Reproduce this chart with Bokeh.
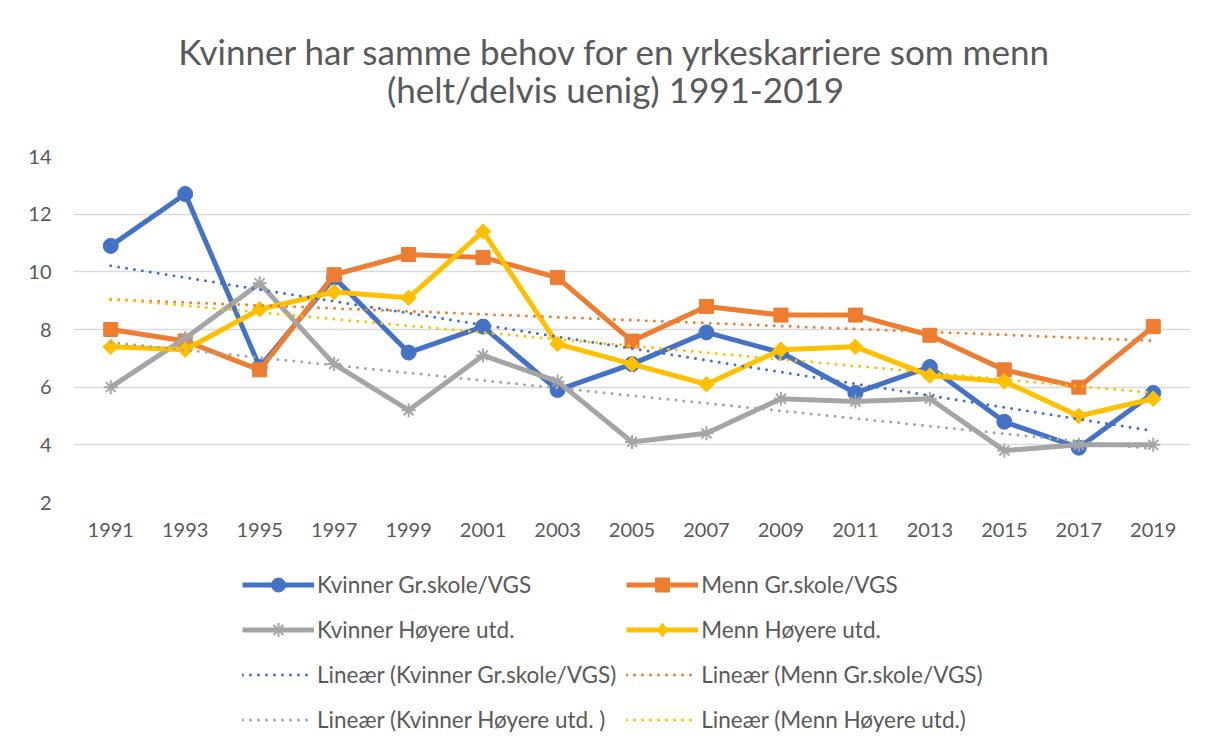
import numpy as np
from bokeh.plotting import figure
from bokeh.layouts import column
from bokeh.models import Legend, LegendItem, Label, FactorRange, Range1d, FixedTicker
from bokeh.embed import file_html
from bokeh.resources import INLINE

years = ["1991", "1993", "1995", "1997", "1999", "2001", "2003", "2005",
         "2007", "2009", "2011", "2013", "2015", "2017", "2019"]
kvinner_gr = [10.9, 12.7, 6.7, 9.8, 7.2, 8.1, 5.9, 6.8, 7.9, 7.2, 5.8, 6.7, 4.8, 3.9, 5.8]
menn_gr = [8.0, 7.6, 6.6, 9.9, 10.6, 10.5, 9.8, 7.6, 8.8, 8.5, 8.5, 7.8, 6.6, 6.0, 8.1]
kvinner_hoy = [6.0, 7.7, 9.6, 6.8, 5.2, 7.1, 6.2, 4.1, 4.4, 5.6, 5.5, 5.6, 3.8, 4.0, 4.0]
menn_hoy = [7.4, 7.3, 8.7, 9.3, 9.1, 11.4, 7.5, 6.8, 6.1, 7.3, 7.4, 6.4, 6.2, 5.0, 5.6]
y_ticks = [2, 4, 6, 8, 10, 12, 14]

title1 = "Kvinner har samme behov for en yrkeskarriere som menn"
title2 = "(helt/delvis uenig) 1991-2019"
names = ["Kvinner Gr.skole/VGS", "Menn Gr.skole/VGS", "Kvinner Høyere utd.", "Menn Høyere utd."]
trend_names = ["Lineær (Kvinner Gr.skole/VGS)", "Lineær (Menn Gr.skole/VGS)",
               "Lineær (Kvinner Høyere utd. )", "Lineær (Menn Høyere utd.)"]
series = [kvinner_gr, menn_gr, kvinner_hoy, menn_hoy]
colors = ["#4472C4", "#ED7D31", "#A5A5A5", "#FFC000"]
markers = ["circle", "square", "asterisk", "square"]
legend_markers = ["circle", "square", "asterisk", "diamond"]
angles = [0, 0, 0, np.pi / 4]
msizes = [15, 14, 14, 11]

FONT = "Lato"
TXT = "#595959"
W = 1209
FL, FR = 73, 1190  # frame left / right (frames are aligned in the column)

# ---------- title strip ----------
tp = figure(width=W, height=130, x_range=Range1d(FL, FR), y_range=Range1d(130, 0),
            output_backend="svg", toolbar_location=None, min_border=0,
            min_border_left=FL, min_border_right=W - FR,
            x_axis_type=None, y_axis_type=None, title=None)
tp.outline_line_color = None
tp.add_layout(Label(x=615, y=50, text=title1, text_align="center",
                    text_baseline="alphabetic", text_font=FONT,
                    text_font_size="35px", text_color=TXT))
tp.add_layout(Label(x=615, y=88, text=title2, text_align="center",
                    text_baseline="alphabetic", text_font=FONT,
                    text_font_size="35px", text_color=TXT))

# ---------- main chart ----------
p = figure(width=W, height=430,
           x_range=FactorRange(*years), y_range=Range1d(2, 14),
           output_backend="svg", toolbar_location=None, title=None,
           min_border_left=FL, min_border_right=W - FR,
           min_border_top=26, min_border_bottom=58)
p.outline_line_color = None
p.xgrid.visible = False
p.ygrid.grid_line_color = "#D9D9D9"
p.ygrid.grid_line_width = 1.5
p.yaxis.ticker = FixedTicker(ticks=y_ticks)
for ax in (p.xaxis, p.yaxis):
    ax.axis_line_color = None
    ax.major_tick_line_color = None
    ax.minor_tick_line_color = None
    ax.major_tick_out = 0
    ax.major_tick_in = 0
    ax.minor_tick_out = 0
    ax.major_label_text_color = TXT
    ax.major_label_text_font = FONT
    ax.major_label_text_font_size = "20px"
p.yaxis.major_label_standoff = 22
p.xaxis.major_label_standoff = 20

xi = np.arange(len(years))
for vals, col, mk, ang, ms in zip(series, colors, markers, angles, msizes):
    p.line(years, vals, line_color=col, line_width=5, line_join="round")
    p.scatter(years, vals, marker=mk, size=ms, angle=ang, fill_color=col,
              line_color=col, line_width=2 if mk == "asterisk" else 1)

fits = []
for vals, col in zip(series, colors):
    coef = np.polyfit(xi, vals, 1)
    fit = np.polyval(coef, xi)
    fits.append(fit)
    p.line(years, fit, line_color=col, line_width=3, line_dash="0 8",
           line_cap="round")

# ---------- legend strip (renderers hold the data but lie outside its view) ----------
lp = figure(width=W, height=186, x_range=FactorRange(*years), y_range=Range1d(100, 101),
            output_backend="svg", toolbar_location=None, min_border=0,
            min_border_left=FL, min_border_right=W - FR,
            x_axis_type=None, y_axis_type=None, title=None)
lp.outline_line_color = None
main_items, trend_items = [], []
for vals, col, mk, nm in zip(series, colors, legend_markers, names):
    ln = lp.line(years, vals, line_color=col, line_width=5)
    sc = lp.scatter(years, vals, marker=mk, fill_color=col,
                    line_color=col, line_width=2 if mk == "asterisk" else 1)
    main_items.append(LegendItem(label=nm, renderers=[ln, sc]))
for fit, col, nm in zip(fits, colors, trend_names):
    tl = lp.line(years, fit, line_color=col, line_width=3, line_dash="0 8",
                 line_cap="round")
    trend_items.append(LegendItem(label=nm, renderers=[tl]))

items = [main_items[0], main_items[1], main_items[2], main_items[3],
         trend_items[0], trend_items[1], trend_items[2], trend_items[3]]
legend = Legend(items=items, orientation="horizontal", ncols=2,
                location=(242 - FL, 9.5), glyph_width=72, glyph_height=35,
                label_height=35, label_width=298, label_standoff=3,
                spacing=10, padding=0, margin=0, border_line_color=None,
                background_fill_alpha=0, label_text_font=FONT,
                label_text_font_size="22.5px", label_text_color=TXT)
lp.add_layout(legend, "center")

layout = column(tp, p, lp, spacing=0)
open("out.html", "w").write(file_html(layout, INLINE))
